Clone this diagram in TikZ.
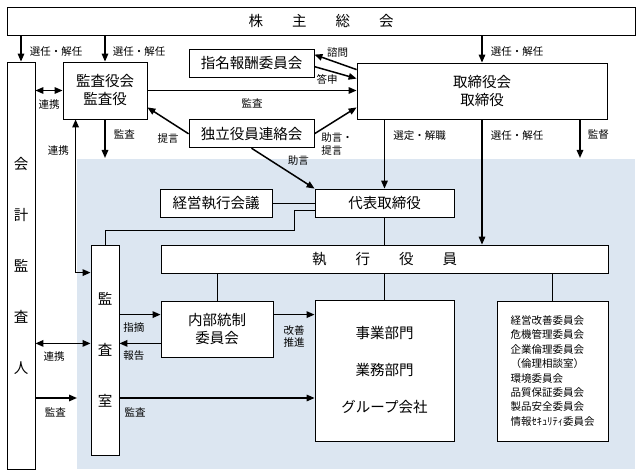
\documentclass[tikz,border=0pt]{standalone}
\usepackage{fontspec}
\setmainfont{Noto Sans CJK JP}
\usetikzlibrary{arrows.meta,positioning}
\definecolor{execblue}{RGB}{220,230,241}

\begin{document}
\begin{tikzpicture}[x=1pt, y=-1pt,
    box/.style={draw, line width=0.8pt, fill=white, inner sep=2pt, align=center,
        font=\fontsize{14.5}{18}\selectfont},
    vbox/.style={box, font=\fontsize{14.5}{51}\selectfont},
    lbl/.style={font=\fontsize{10.5}{12.5}\selectfont, inner sep=0pt, align=left},
    arr/.style={line width=1.5pt, -{Triangle[length=8pt,width=6.5pt]}},
    dblarr/.style={line width=1.5pt, {Triangle[length=8pt,width=6.5pt]}-{Triangle[length=8pt,width=6.5pt]}},
    link/.style={line width=0.8pt}]
    \useasboundingbox (0,0) rectangle (643,476);
    %% area of the executive side
    \fill[execblue] (77,159) rectangle (635,469);

    \node[box, minimum width=628pt, minimum height=28pt] (share) at (321,21) {株　　主　　総　　会};
    \node[vbox, minimum width=28pt, minimum height=407pt] (kaikei) at (21,265.5) {会\\計\\監\\査\\人};
    \node[box, minimum width=84pt, minimum height=57pt] (kansayaku) at (105,90.5) {監査役会\\監査役};
    \node[box, minimum width=125pt, minimum height=28pt] (shimei) at (251.5,63) {指名報酬委員会};
    \node[box, minimum width=125pt, minimum height=28pt, below=42pt of shimei] (dokuritsu) {独立役員連絡会};
    \node[box, minimum width=250pt, minimum height=56pt] (torishimari) at (482,91) {取締役会\\取締役};
    \node[box, minimum width=139pt, minimum height=28pt] (daihyo) at (384.5,203) {代表取締役};
    \node[box, minimum width=112pt, minimum height=28pt, left=42pt of daihyo] (keiei) {経営執行会議};
    \node[box, minimum width=447pt, minimum height=28pt] (shikko) at (384.5,259) {執　　行　　役　　員};
    \node[vbox, minimum width=28pt, minimum height=210pt] (kansashitsu) at (105,350) {監\\査\\室};
    \node[box, minimum width=112pt, minimum height=56pt] (naibu) at (217,329) {内部統制\\委員会};
    \node[box, minimum width=139pt, minimum height=141pt,
        font=\fontsize{14.5}{37}\selectfont] (jigyo) at (384.5,370.5) {事業部門\\業務部門\\グループ会社};
    \node[box, minimum width=111pt, minimum height=140pt, align=left,
        font=\fontsize{10.5}{14.4}\selectfont] (iinkai) at (552.5,371)
        {経営改善委員会\\危機管理委員会\\企業倫理委員会\\（倫理相談室）\\環境委員会\\品質保証委員会\\製品安全委員会\\情報ｾｷｭﾘﾃｨ委員会};

    %% free ends and crossing levels
    \coordinate (kansa-end) at (105,158);
    \coordinate (kantoku-end) at (580,158);
    \coordinate (shiteki) at ([yshift=-14pt]naibu.north west);
    \coordinate (houkoku) at ([yshift=14pt]naibu.south west);
    \coordinate (kansa-line) at (0,398);
    \coordinate (kansa-edge) at (77,398);

    %% shareholders
    \draw[arr] (share.south -| kaikei) -- (kaikei.north) node[lbl, pos=0.6, right=8pt] {選任・解任};
    \draw[arr] (share.south -| kansayaku) -- (kansayaku.north) node[lbl, pos=0.6, right=7pt] {選任・解任};
    \draw[arr] (share.south -| torishimari) -- (torishimari.north) node[lbl, pos=0.6, right=8pt] {選任・解任};

    %% auditors
    \draw[dblarr] (kaikei.east |- kansayaku) -- (kansayaku.west) node[lbl, midway, below=8pt] {連携};
    \draw[arr] (kansayaku.south) -- (kansa-end) node[lbl, pos=0.4, right=8pt] {監査};
    \draw[dblarr] ([yshift=-28pt]kansashitsu.north west) -| ([xshift=13pt]kansayaku.south west)
        node[lbl, pos=0.9, left=6pt] {連携};
    \draw[arr] (kansayaku.east) -- (kansayaku.east -| torishimari.west) node[lbl, midway, below=7pt] {監査};

    %% committees round the board
    \draw[arr] ([yshift=-7pt]torishimari.north west) -- ([yshift=-6pt]shimei.north east)
        node[lbl, pos=0.45, above=5pt] {諮問};
    \draw[arr] ([yshift=-18pt]shimei.north east) -- ([yshift=-16pt]torishimari.north west)
        node[lbl, pos=0.3, below=4pt] {答申};
    \draw[arr] (dokuritsu.west) -- ([yshift=12pt]kansayaku.south east) node[lbl, midway, below=12pt] {提言};
    \draw[arr] (dokuritsu.east) -- ([yshift=12pt]torishimari.south west)
        node[lbl, pos=0.15, anchor=north west, yshift=-2.5pt] {助言・\\提言};
    \draw[arr] (dokuritsu.south) -- (daihyo.north west) node[lbl, pos=0.31, right=16pt] {助言};

    %% board of directors
    \draw[arr] (torishimari.south -| daihyo) -- (daihyo.north) node[lbl, pos=0.23, right=8pt] {選定・解職};
    \draw[arr] (torishimari.south) -- (torishimari.south |- shikko.north) node[lbl, pos=0.13, right=8pt] {選任・解任};
    \draw[arr] (torishimari.south -| kantoku-end) -- (kantoku-end) node[lbl, pos=0.4, right=7pt] {監督};

    %% executive side
    \draw[link] (keiei.east) -- (daihyo.west);
    \draw[link] (kansashitsu.north) |- (294,230) |- ([yshift=-7pt]daihyo.west);
    \draw[link] (daihyo.south) -- (shikko.north);
    \draw[link] (shikko.south -| naibu) -- (naibu.north);
    \draw[link] (shikko.south) -- (jigyo.north);
    \draw[link] (shikko.south -| iinkai) -- (iinkai.north);

    %% internal audit
    \draw[arr] (kansashitsu.east |- shiteki) -- (shiteki) node[lbl, pos=0.35, below=7pt] {指摘};
    \draw[arr] (houkoku) -- (kansashitsu.east |- houkoku) node[lbl, pos=0.65, below=7pt] {報告};
    \draw[arr] (naibu.east |- shiteki) -- (jigyo.west |- shiteki) node[lbl, midway, below=10pt] {改善\\推進};
    \draw[arr] (kansashitsu.east |- kansa-line) -- (jigyo.west |- kansa-line) node[lbl, pos=0.08, below=9pt] {監査};
    \draw[dblarr] (kaikei.east |- houkoku) -- (kansashitsu.west |- houkoku) node[lbl, pos=0.34, below=8pt] {連携};
    \draw[arr] (kaikei.east |- kansa-edge) -- (kansa-edge) node[lbl, pos=0.48, below=9pt] {監査};
\end{tikzpicture}
\end{document}
